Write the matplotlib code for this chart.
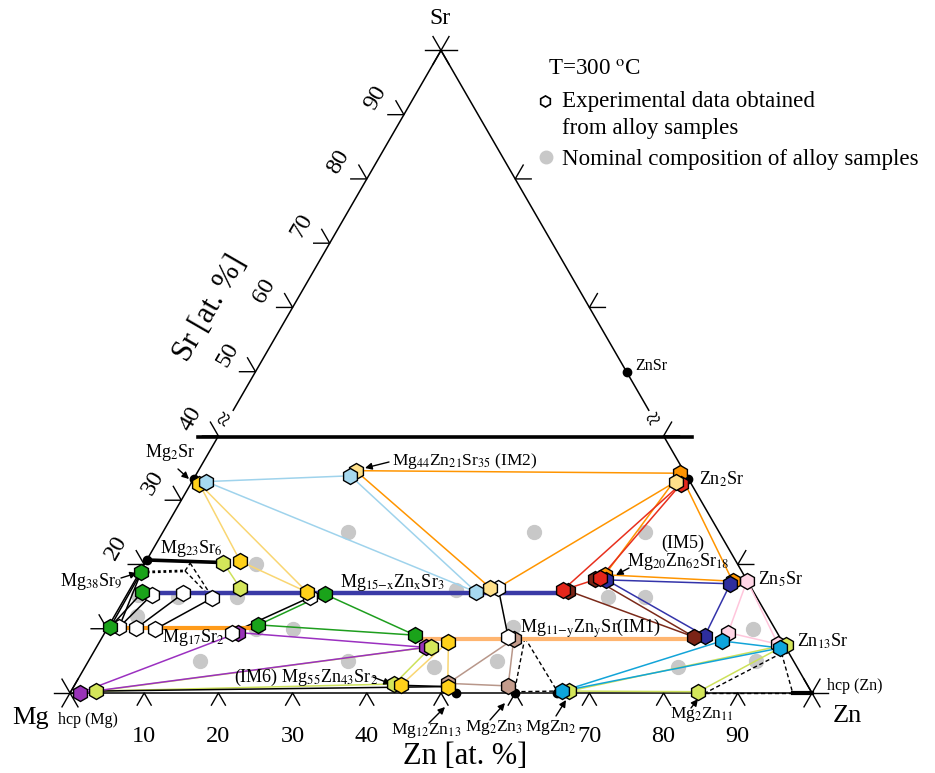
import numpy as np
import matplotlib.pyplot as plt

plt.rcParams['font.family'] = ['Liberation Serif', 'DejaVu Serif']
plt.rcParams['mathtext.fontset'] = 'stix'

SQ = np.sqrt(3) / 2

# ---- data: compositions in at.% (Zn, Sr) ----
# stoichiometric compounds (black dots)
compounds = [(0, 33.3), (0, 20.7), (52.0, 0), (60.0, 0), (65.6, 0),
             (66.7, 33.3), (50.0, 50.0)]

# experimental hexagons grouped by colour
hex_orange = [(65.1, 34.2), (62.9, 18.4), (80.6, 17.4)]
hex_tan = [(55.6, 8.4), (58.5, 1.1), (50.2, 1.5)]
hex_purple = [(1.3, 0.0), (18.0, 9.4), (44.4, 7.1)]
hex_darkblue = [(63.5, 17.6), (80.5, 17.0), (81.1, 8.9)]
hex_darkred = [(59.2, 15.9), (61.9, 17.7), (79.8, 8.7)]
hex_white = [(3.4, 15.3), (7.5, 15.5), (11.8, 14.8), (24.9, 14.9), (1.5, 10.2),
             (3.9, 10.1), (6.5, 9.9), (17.2, 9.4), (49.5, 16.4), (54.7, 8.7)]
hex_pink = [(82.5, 17.5), (84.0, 9.4), (91.6, 7.6)]
hex_ygreen = [(3.4, 0.3), (10.5, 20.3), (14.8, 16.3), (45.1, 7.2), (43.0, 1.4),
              (67.1, 0.3), (84.6, 0.2), (92.7, 7.5)]
hex_red = [(58.4, 16.0), (62.5, 17.9), (66.1, 32.6)]
hex_yellow = [(1.1, 32.6), (12.7, 20.5), (24.1, 15.7), (47.0, 8.0), (44.0, 1.2),
              (50.4, 1.0)]
hex_lyellow = [(21.2, 34.6), (48.4, 16.4), (65.2, 32.9)]
hex_lblue = [(1.9, 32.9), (20.9, 33.8), (46.9, 15.7)]
hex_green = [(0.2, 18.8), (1.9, 15.7), (26.6, 15.4), (0.3, 10.3), (20.1, 10.6),
             (42.0, 9.0)]
hex_cyan = [(66.2, 0.3), (83.8, 8.1), (92.2, 7.0)]

# nominal alloy compositions (grey dots)
nominal = [(15, 20), (15, 15), (7, 15), (1.5, 15.2), (3, 12), (25, 10), (20, 10),
           (15, 5), (25, 25), (50, 25), (44, 16), (55, 5), (47, 4), (35, 5),
           (54.6, 10.3), (65, 25), (65, 15), (70, 15), (87, 10), (90, 5), (80, 4)]

# tie lines / tie triangles
tl_lblue = [((1.9, 32.9), (20.9, 33.8)), ((1.9, 32.9), (46.9, 15.7)),
            ((20.9, 33.8), (46.9, 15.7))]
tl_pyellow = [((1.1, 32.6), (12.7, 20.5)), ((1.1, 32.6), (24.1, 15.7)),
              ((12.7, 20.5), (24.1, 15.7)), ((47.0, 8.0), (44.0, 1.2)),
              ((47.0, 8.0), (50.4, 1.0))]
tl_ygreen = [((10.5, 20.3), (14.8, 16.3)), ((3.4, 0.3), (45.1, 7.2)),
             ((3.4, 0.3), (43.0, 1.4)), ((43.0, 1.4), (45.1, 7.2)),
             ((67.1, 0.3), (84.6, 0.2)), ((67.1, 0.3), (92.7, 7.5)),
             ((84.6, 0.2), (92.7, 7.5))]
tl_black = [((0.3, 10.3), (0.2, 18.8)), ((1.5, 10.2), (0.2, 18.8)),
            ((0.3, 10.3), (1.9, 15.7)), ((1.5, 10.2), (3.4, 15.3)),
            ((3.9, 10.1), (7.5, 15.5)), ((6.5, 9.9), (11.8, 14.8)),
            ((17.2, 9.4), (24.9, 14.9)), ((54.7, 8.7), (49.5, 16.4)),
            ((3.4, 0.3), (50.4, 1.0)), ((44.0, 1.2), (50.4, 1.0))]
tl_green = [((20.1, 10.6), (26.6, 15.4)), ((20.1, 10.6), (42.0, 9.0)),
            ((26.6, 15.4), (42.0, 9.0))]
tl_purple = [((1.3, 0.0), (18.0, 9.4)), ((1.3, 0.0), (44.4, 7.1)),
             ((18.0, 9.4), (44.4, 7.1))]
tl_orange = [((21.2, 34.6), (65.1, 34.2)), ((21.2, 34.6), (48.4, 16.4)),
             ((49.5, 16.4), (65.2, 32.9)), ((65.1, 34.2), (80.6, 17.4)),
             ((62.9, 18.4), (65.1, 34.2)), ((62.9, 18.4), (80.6, 17.4))]
tl_red = [((58.4, 16.0), (62.5, 17.9)), ((58.4, 16.0), (66.1, 32.6)),
          ((62.5, 17.9), (66.1, 32.6))]
tl_brown = [((59.2, 15.9), (79.8, 8.7)), ((61.9, 17.7), (79.8, 8.7))]
tl_blue = [((63.5, 17.6), (80.5, 17.0)), ((63.5, 17.6), (81.1, 8.9)),
           ((80.5, 17.0), (81.1, 8.9))]
tl_pink = [((82.5, 17.5), (84.0, 9.4)), ((82.5, 17.5), (91.6, 7.6)),
           ((84.0, 9.4), (91.6, 7.6))]
tl_cyan = [((83.8, 8.1), (92.2, 7.0)), ((66.2, 0.3), (83.8, 8.1)),
           ((66.2, 0.3), (92.2, 7.0))]
tl_tan = [((55.6, 8.4), (50.2, 1.5)), ((55.6, 8.4), (58.5, 1.1)),
          ((50.2, 1.5), (58.5, 1.1))]
tl_dashed = [((6.0, 19.0), (6.1, 20.2)), ((6.1, 20.2), (11.3, 15.3)),
             ((6.0, 19.0), (11.0, 15.3)), ((57.0, 8.6), (59.8, 0.2)),
             ((57.0, 8.6), (65.5, 0.3)), ((59.8, 0.2), (65.5, 0.3)),
             ((92.8, 6.2), (85.6, 0.0)), ((92.8, 6.2), (97.4, 0.0)),
             ((85.6, 0.0), (97.4, 0.0))]
tl_dotted = [((0.2, 18.8), (6.0, 19.0))]

# single-phase solubility ranges (thick lines)
mg23sr6_line = [(0, 20.7), (10.5, 20.3)]
mg17sr2_line = [(1.0, 10.1), (21.0, 10.1)]
im3_line = [(3.0, 15.6), (58.4, 15.6)]
im1_line = [(43.0, 8.4), (79.8, 8.4)]
hcpzn_line = [(97.4, 0.0), (100.0, 0.0)]

bottom_ticks = [10, 20, 30, 40, 50, 60, 70, 80, 90]
bottom_labels = [10, 20, 30, 40, 70, 80, 90]
left_ticks = [10, 20, 30, 40, 50, 60, 70, 80, 90]
left_labels = [20, 30, 40, 50, 60, 70, 80, 90]
right_ticks = [20, 40, 60, 80]


def tern(zn, sr):
    zn = np.asarray(zn, float) / 100
    sr = np.asarray(sr, float) / 100
    return zn + sr / 2, sr * SQ


def px(x, y):
    # figure pixel -> data units (used for label placement only)
    return (x - 70) / 742, (693 - y) / 742


P = 1 / 742  # one pixel in data units

fig = plt.figure(figsize=(9.35, 7.73), dpi=100)
ax = fig.add_axes([0, 0, 1, 1])
ax.set_xlim(-70 / 742, 865 / 742)
ax.set_ylim(-80 / 742, 693 / 742)
ax.axis('off')

# triangle edges (broken at Sr = 40-44 %)
def seg(a, b, **kw):
    x0, y0 = tern(*a)
    x1, y1 = tern(*b)
    ax.plot([x0, x1], [y0, y1], **kw)

edge = dict(color='k', lw=1.1, zorder=1)
seg((0, 0), (100, 0), **edge)
seg((0, 0), (0, 40), **edge)
seg((0, 44), (0, 100), **edge)
seg((100, 0), (60, 40), **edge)
seg((56, 44), (0, 100), **edge)

# break line and break marks
bx0, by = px(198, 437)
bx1, _ = px(692, 437)
ax.plot([bx0, bx1], [by, by], color='k', lw=2.6, zorder=1)
ax.text(*px(226, 420), '≈', fontsize=19, rotation=60, ha='center', va='center')
ax.text(*px(654, 421), '≈', fontsize=19, rotation=30, ha='center', va='center')

# ticks
L = 16 * P
c60, s60 = 0.5, SQ
for z in bottom_ticks:
    x, y = tern(z, 0)
    ax.plot([x - c60 * 14 * P, x, x + c60 * 14 * P],
            [y - s60 * 14 * P, y, y - s60 * 14 * P], color='k', lw=1, zorder=1)
for s in left_ticks:
    x, y = tern(0, s)
    ax.plot([x - L, x, x - c60 * L], [y, y, y + s60 * L], color='k', lw=1, zorder=1)
for s in right_ticks:
    x, y = tern(100 - s, s)
    ax.plot([x + L, x, x + c60 * L], [y, y, y + s60 * L], color='k', lw=1, zorder=1)
for corner in [(0, 0), (100, 0), (0, 100)]:
    x, y = tern(*corner)
    for ang in [0, 60, 120]:
        dx, dy = np.cos(np.radians(ang)) * L, np.sin(np.radians(ang)) * L
        ax.plot([x - dx, x + dx], [y - dy, y + dy], color='k', lw=1, zorder=1)

# tick labels
for z in bottom_labels:
    x, y = tern(z, 0)
    ax.text(x, y - 43 * P, str(z), fontsize=17.5, ha='center', va='center')
for s in left_labels:
    x, y = tern(0, s)
    ax.text(x - 28 * P, y + 17 * P, str(s), fontsize=17.5, rotation=60,
            ha='center', va='center')

# axis and corner labels
ax.text(*px(465, 757), 'Zn [at. %]', fontsize=22, ha='center', va='center')
ax.text(*px(210, 308), 'Sr [at. %]', fontsize=22, rotation=60, ha='center', va='center')
ax.text(*px(31, 718), 'Mg', fontsize=19, ha='center', va='center')
ax.text(*px(847, 716), 'Zn', fontsize=19, ha='center', va='center')
ax.text(*px(440, 18), 'Sr', fontsize=17, ha='center', va='center')

# tie lines
line_sets = [(tl_lblue, '#9fd3ec'), (tl_pyellow, '#f9d672'), (tl_ygreen, '#cde15a'),
             (tl_black, 'k'), (tl_green, '#1e9e1e'), (tl_purple, '#9b30c0'),
             (tl_orange, '#ff9500'), (tl_red, '#e8301e'), (tl_brown, '#7b2a1a'),
             (tl_blue, '#3434aa'), (tl_pink, '#ffc6dc'), (tl_cyan, '#12a4d8'),
             (tl_tan, '#b8978a')]
for lines, col in line_sets:
    for a, b in lines:
        seg(a, b, color=col, lw=1.1, zorder=2)
for a, b in tl_dashed:
    seg(a, b, color='k', lw=1, ls=(0, (3, 2)), zorder=2)
for a, b in tl_dotted:
    seg(a, b, color='k', lw=2, ls=(0, (1, 1)), zorder=2)

seg(*mg23sr6_line, color='k', lw=2.6, zorder=2.5)
seg(*mg17sr2_line, color='#ff9b1a', lw=3, zorder=2.5)
seg(*im3_line, color='#3a3aa6', lw=3.2, zorder=2.5)
seg(*im1_line, color='#ffb570', lw=3, zorder=2.5)
seg(*hcpzn_line, color='k', lw=3, zorder=2.5)

# nominal compositions
gx, gy = tern(*zip(*nominal))
ax.plot(gx, gy, 'o', ms=10, color='#c8c8c8', ls='none', zorder=1.5)

# hexagons
hex_sets = [(hex_orange, '#ff9500'), (hex_tan, '#c49c8c'), (hex_purple, '#9932b8'),
            (hex_darkblue, '#2e2e9e'), (hex_darkred, '#7b2416'), (hex_white, 'white'),
            (hex_pink, '#ffd6e6'), (hex_ygreen, '#d4e65a'), (hex_red, '#e4261b'),
            (hex_yellow, '#ffd11a'), (hex_lyellow, '#ffe08a'), (hex_lblue, '#a6d9f0'),
            (hex_green, '#1aa31a'), (hex_cyan, '#0ea5dc')]
for i, (pts, col) in enumerate(hex_sets):
    hx, hy = tern(*zip(*pts))
    ax.plot(hx, hy, 'h', ms=11.5, mfc=col, mec='k', mew=1, ls='none', zorder=3 + 0.05 * i)

# compounds
cx, cy = tern(*zip(*compounds))
ax.plot(cx, cy, 'o', ms=6, color='k', ls='none', zorder=2.8)

# compound labels
labels = [
    ('Mg$_2$Sr', 145, 457, 13), ('Mg$_{23}$Sr$_6$', 160, 553, 13),
    ('Mg$_{38}$Sr$_9$', 60, 586, 13), ('Mg$_{17}$Sr$_2$', 162, 642, 13),
    ('(IM6) Mg$_{55}$Zn$_{43}$Sr$_2$', 234, 682, 13),
    ('Mg$_{15\mathrm{-x}}$Zn$_\mathrm{x}$Sr$_3$', 340, 587, 13),
    ('Mg$_{44}$Zn$_{21}$Sr$_{35}$ (IM2)', 392, 465, 12.5),
    ('Mg$_{11\mathrm{-y}}$Zn$_\mathrm{y}$Sr(IM1)', 520, 633, 13),
    ('(IM5)', 661, 548, 13), ('Mg$_{20}$Zn$_{62}$Sr$_{18}$', 627, 566, 13),
    ('Zn$_2$Sr', 699, 485, 13), ('Zn$_5$Sr', 758, 585, 13),
    ('Zn$_{13}$Sr', 797, 647, 13), ('hcp (Zn)', 827, 690, 11.5),
    ('Mg$_{12}$Zn$_{13}$', 391, 734, 12.5), ('Mg$_2$Zn$_3$', 465, 731, 12.5),
    ('MgZn$_2$', 525, 731, 12.5), ('Mg$_2$Zn$_{11}$', 670, 718, 12.5),
    ('hcp (Mg)', 58, 724, 11.5), ('ZnSr', 635, 370, 11.5),
]
for txt, x, y, fs in labels:
    ax.text(*px(x, y), txt, fontsize=fs, ha='left', va='baseline')

arrows = [((178, 469), (189, 479)), ((121, 578), (137, 573)), ((389, 462), (365, 468)),
          ((373, 677), (391, 684)), ((429, 723), (445, 707)), ((490, 720), (505, 703)),
          ((556, 716), (566, 700)), ((691, 708), (698, 699)), ((629, 568), (616, 575))]
for tail, tip in arrows:
    ax.annotate('', xy=px(*tip), xytext=px(*tail),
                arrowprops=dict(arrowstyle='-|>', color='k', lw=1,
                                mutation_scale=10, shrinkA=0, shrinkB=0))

# legend
ax.text(*px(548, 75), 'T=300 $^\mathrm{o}$C', fontsize=16.6, ha='left', va='baseline')
ax.plot(*px(545, 101), 'h', ms=8, mfc='white', mec='k', mew=1.2)
ax.text(*px(562, 107), 'Experimental data obtained', fontsize=16.6, ha='left', va='baseline')
ax.text(*px(562, 134), 'from alloy samples', fontsize=16.6, ha='left', va='baseline')
ax.plot(*px(546, 157), 'o', ms=9, color='#c8c8c8')
ax.text(*px(562, 165), 'Nominal composition of alloy samples', fontsize=16.6,
        ha='left', va='baseline')

fig.savefig('out.png', dpi=100)
